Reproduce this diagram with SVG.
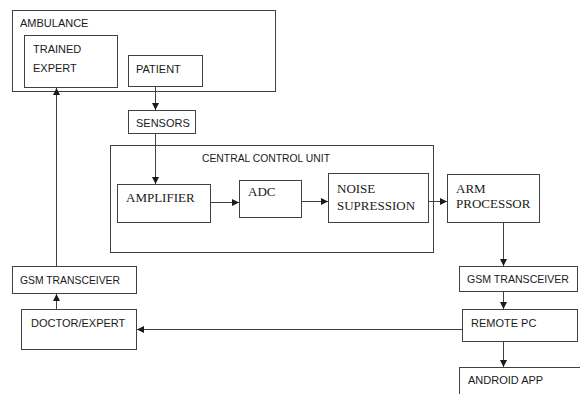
<svg xmlns="http://www.w3.org/2000/svg" width="580" height="394" viewBox="0 0 580 394">
<defs>
<style>
.b{fill:#fff;stroke:#404040;stroke-width:1}
.c{fill:none;stroke:#404040;stroke-width:1}
.s{font-family:"Liberation Sans",Arial,sans-serif;font-size:11px;fill:#1a1a1a}
.t{font-family:"Liberation Serif","Times New Roman",serif;font-size:13px;fill:#1a1a1a}
</style>
<marker id="a" viewBox="0 0 10 10" refX="10" refY="5" markerWidth="7" markerHeight="7" orient="auto" markerUnits="userSpaceOnUse"><path d="M0,0 L10,5 L0,10 Z" fill="#1a1a1a"/></marker>
</defs>
<rect width="580" height="394" fill="#fff"/>
<g id="ambulance"><rect class="b" x="12.5" y="10.5" width="263" height="81"/><text class="s" x="20" y="27">AMBULANCE</text></g>
<g id="trained-expert"><rect class="b" x="24.5" y="35.5" width="93" height="52"/><text class="s" x="33" y="53">TRAINED</text><text class="s" x="33" y="72">EXPERT</text></g>
<g id="patient"><rect class="b" x="128.5" y="55.5" width="74" height="31"/><text class="s" x="136" y="73">PATIENT</text></g>
<g id="sensors"><rect class="b" x="128.5" y="110.5" width="67" height="23"/><text class="s" x="136" y="127">SENSORS</text></g>
<g id="ccu"><rect class="b" x="110.5" y="145.5" width="323" height="107"/><text class="s" x="202" y="162" textLength="128" lengthAdjust="spacingAndGlyphs">CENTRAL CONTROL UNIT</text></g>
<g id="amplifier"><rect class="b" x="117.5" y="184.5" width="93" height="38"/><text class="t" x="126" y="202">AMPLIFIER</text></g>
<g id="adc"><rect class="b" x="239.5" y="180.5" width="62" height="37"/><text class="t" x="248" y="196">ADC</text></g>
<g id="noise"><rect class="b" x="328.5" y="173.5" width="100" height="49"/><text class="t" x="337" y="193">NOISE</text><text class="t" x="337" y="210">SUPRESSION</text></g>
<g id="arm"><rect class="b" x="447.5" y="174.5" width="92" height="48"/><text class="t" x="456" y="193">ARM</text><text class="t" x="456" y="208">PROCESSOR</text></g>
<g id="gsm-right"><rect class="b" x="459.5" y="266.5" width="118" height="25"/><text class="s" x="467" y="283" textLength="102" lengthAdjust="spacingAndGlyphs">GSM TRANSCEIVER</text></g>
<g id="remote-pc"><rect class="b" x="462.5" y="309.5" width="115" height="32"/><text class="s" x="471" y="327">REMOTE PC</text></g>
<g id="android-app"><rect class="b" x="459.5" y="367.5" width="125" height="40"/><text class="s" x="468" y="384">ANDROID APP</text></g>
<g id="gsm-left"><rect class="b" x="12.5" y="266.5" width="124" height="27"/><text class="s" x="20" y="284" textLength="100" lengthAdjust="spacingAndGlyphs">GSM TRANSCEIVER</text></g>
<g id="doctor"><rect class="b" x="21.5" y="309.5" width="115" height="40"/><text class="s" x="31" y="327">DOCTOR/EXPERT</text></g>
<g id="connectors">
<line class="c" x1="155.5" y1="87" x2="155.5" y2="110" marker-end="url(#a)"/>
<line class="c" x1="155.5" y1="134" x2="155.5" y2="184" marker-end="url(#a)"/>
<line class="c" x1="211" y1="202.5" x2="239" y2="202.5" marker-end="url(#a)"/>
<line class="c" x1="302" y1="201.5" x2="328" y2="201.5" marker-end="url(#a)"/>
<line class="c" x1="429" y1="201.5" x2="447" y2="201.5" marker-end="url(#a)"/>
<line class="c" x1="503.5" y1="223" x2="503.5" y2="266" marker-end="url(#a)"/>
<line class="c" x1="503.5" y1="292" x2="503.5" y2="309" marker-end="url(#a)"/>
<line class="c" x1="503.5" y1="342" x2="503.5" y2="367" marker-end="url(#a)"/>
<line class="c" x1="462" y1="329.5" x2="137" y2="329.5" marker-end="url(#a)"/>
<line class="c" x1="56.5" y1="309" x2="56.5" y2="294" marker-end="url(#a)"/>
<line class="c" x1="56.5" y1="266" x2="56.5" y2="88" marker-end="url(#a)"/>
</g>
</svg>
